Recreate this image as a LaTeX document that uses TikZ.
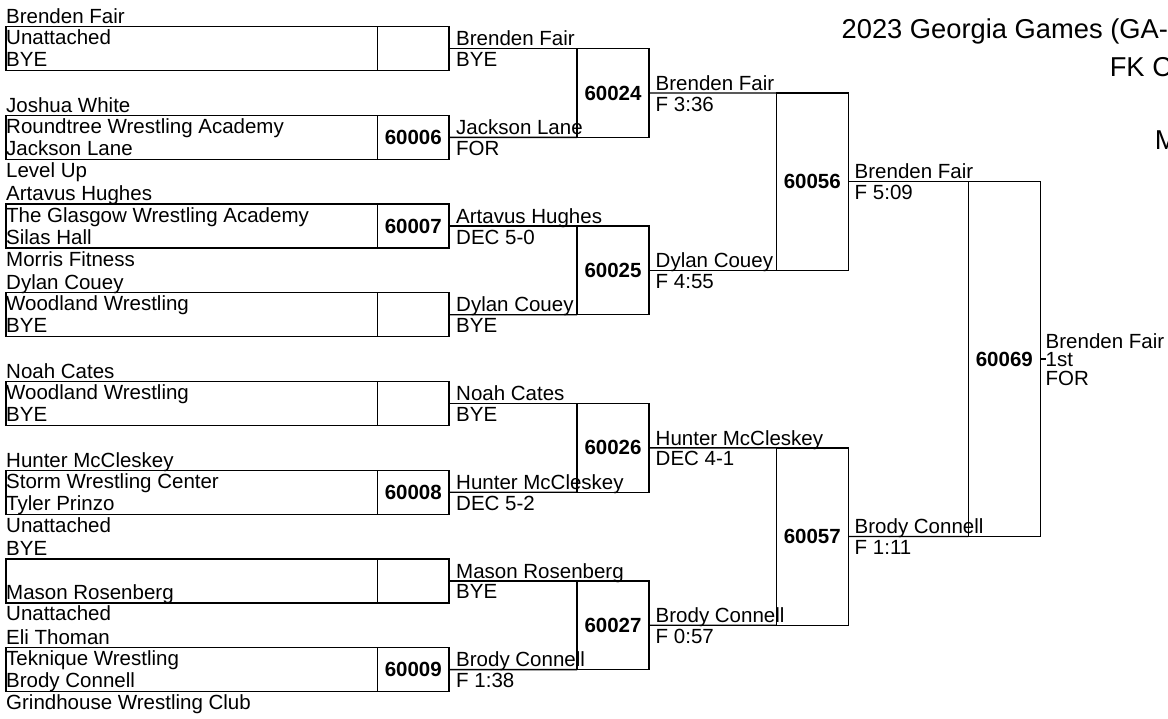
\documentclass[tikz,border=0pt]{standalone}
\usepackage{fontspec}
\setmainfont{Liberation Sans}
\usetikzlibrary{positioning}

\newcommand{\bracketfont}{\fontsize{20.5}{22}\selectfont}
\newcommand{\titlefont}{\fontsize{27.3}{32}\selectfont}

\begin{document}
\begin{tikzpicture}[
        x=1pt, y=-1pt,
        entry/.style={draw, line width=1.3pt, inner sep=0pt, outer sep=0pt, minimum width=371.5pt, minimum height=44pt, anchor=north west},
        cell/.style={draw, line width=1.3pt, inner sep=0pt, outer sep=0pt, minimum width=71.5pt, minimum height=44pt, anchor=north west, font=\bracketfont\bfseries},
        bout/.style={draw, line width=1.3pt, inner sep=0pt, outer sep=0pt, minimum width=72pt, minimum height=#1, anchor=north west, font=\bracketfont\bfseries},
        lbl/.style={anchor=base west, inner sep=0pt, font=\bracketfont},
        ttl/.style={anchor=base west, inner sep=0pt, font=\titlefont},
        wire/.style={line width=1.3pt},
    ]
    \useasboundingbox (0,0) rectangle (1168,719);

    % Title (runs off the right edge)
    \node[ttl] (title1) at (841.5,38.5) {2023 Georgia Games (GA-U};
    \node[ttl] (title2) at (1109.6,76.7) {FK C};
    \node[ttl] (title3) at (1154.7,150) {M};

    % First round
    \node[entry] (t1) at (6,26.7) {};
    \node[cell] (c1) at (t1.north east) {};
    \node[entry] (t2) at (6,115.4) {};
    \node[cell] (c2) at (t2.north east) {60006};
    \node[entry] (t3) at (6,204.1) {};
    \node[cell] (c3) at (t3.north east) {60007};
    \node[entry] (t4) at (6,292.8) {};
    \node[cell] (c4) at (t4.north east) {};
    \node[entry] (t5) at (6,381.5) {};
    \node[cell] (c5) at (t5.north east) {};
    \node[entry] (t6) at (6,470.2) {};
    \node[cell] (c6) at (t6.north east) {60008};
    \node[entry] (t7) at (6,558.9) {};
    \node[cell] (c7) at (t7.north east) {};
    \node[entry] (t8) at (6,647.6) {};
    \node[cell] (c8) at (t8.north east) {60009};

    % Wrestlers and clubs
    \foreach \k/\t/\na/\ca/\nb/\cb in {
        1/26.7/Brenden Fair/Unattached/BYE/{},
        2/115.4/Joshua White/Roundtree Wrestling Academy/Jackson Lane/Level Up,
        3/204.1/Artavus Hughes/The Glasgow Wrestling Academy/Silas Hall/Morris Fitness,
        4/292.8/Dylan Couey/Woodland Wrestling/BYE/{},
        5/381.5/Noah Cates/Woodland Wrestling/BYE/{},
        6/470.2/Hunter McCleskey/Storm Wrestling Center/Tyler Prinzo/Unattached,
        7/558.9/BYE/{}/Mason Rosenberg/Unattached,
        8/647.6/Eli Thoman/Teknique Wrestling/Brody Connell/Grindhouse Wrestling Club} {
        \node[lbl] (wa\k) at (6,\t-3.2) {\na};
        \node[lbl] (ca\k) at (6,\t+18) {\ca};
        \node[lbl] (wb\k) at (6,\t+40.2) {\nb};
        \node[lbl] (cb\k) at (6,\t+62) {\cb};
    }

    % Second round
    \node[bout=88.7pt] (m60024) at (577,48.7) {60024};
    \node[bout=88.7pt] (m60025) at (577,226.1) {60025};
    \node[bout=88.7pt] (m60026) at (577,403.5) {60026};
    \node[bout=88.7pt] (m60027) at (577,580.9) {60027};

    % Quarter and semi
    \node[bout=177.4pt] (m60056) at (776.3,93.05) {60056};
    \node[bout=177.4pt] (m60057) at (776.3,447.85) {60057};
    \node[bout=354.8pt] (m60069) at (968.3,181.75) {60069};

    % Bracket lines
    \foreach \a/\b in {c1/m60024.north west, c2/m60024.south west, c3/m60025.north west, c4/m60025.south west,
                       c5/m60026.north west, c6/m60026.south west, c7/m60027.north west, c8/m60027.south west,
                       m60024/m60056.north west, m60025/m60056.south west, m60026/m60057.north west, m60027/m60057.south west,
                       m60056/m60069.north west, m60057/m60069.south west} {
        \draw[wire] (\a.east) -- (\b);
    }
    \draw[wire] (m60069.east) -- ++(6,0) coordinate (champ);

    % Results, second round
    \foreach \k/\y/\w/\r in {1/48.7/Brenden Fair/BYE, 2/137.4/Jackson Lane/FOR, 3/226.1/Artavus Hughes/DEC 5-0,
                             4/314.8/Dylan Couey/BYE, 5/403.5/Noah Cates/BYE, 6/492.2/Hunter McCleskey/DEC 5-2,
                             7/580.9/Mason Rosenberg/BYE, 8/669.6/Brody Connell/F 1:38} {
        \node[lbl] (rw\k) at (456,\y-2.8) {\w};
        \node[lbl] (rr\k) at (456,\y+18) {\r};
    }
    % Results, later rounds
    \foreach \k/\x/\y/\w/\r in {24/655.5/93.05/Brenden Fair/F 3:36, 25/655.5/270.45/Dylan Couey/F 4:55,
                                26/655.5/447.85/Hunter McCleskey/DEC 4-1, 27/655.5/625.25/Brody Connell/F 0:57,
                                56/854.5/181.75/Brenden Fair/F 5:09, 57/854.5/536.55/Brody Connell/F 1:11} {
        \node[lbl] (sw\k) at (\x,\y-2.8) {\w};
        \node[lbl] (sr\k) at (\x,\y+18) {\r};
    }

    % Champion
    \node[lbl] (champname) at (1045.5,348.3) {Brenden Fair};
    \node[lbl] (champplace) at (1045.5,366.7) {1st};
    \node[lbl] (champwin) at (1045.5,386) {FOR};

\end{tikzpicture}
\end{document}
